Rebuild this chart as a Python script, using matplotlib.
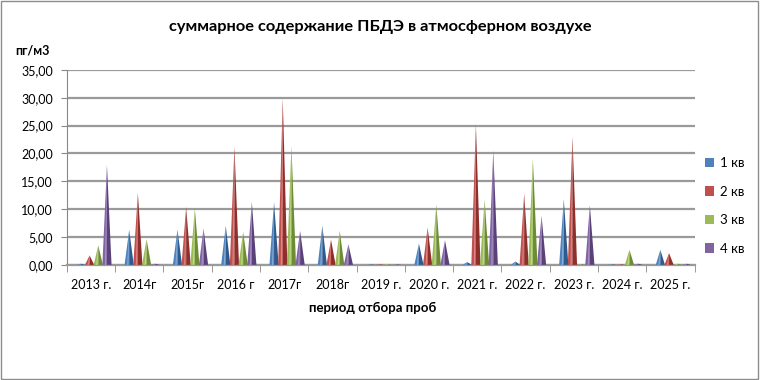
import matplotlib.pyplot as plt
import numpy as np
from matplotlib.patches import Polygon, Patch, Rectangle

plt.rcParams['font.family'] = ['Lato', 'DejaVu Sans']

years = ['2013 г.', '2014г', '2015г', '2016 г', '2017г', '2018г', '2019 г.',
         '2020 г.', '2021 г.', '2022 г.', '2023 г.', '2024 г.', '2025 г.']
series_names = ['1 кв', '2 кв', '3 кв', '4 кв']
q1 = [0.2, 6.3, 6.3, 7.0, 11.2, 7.0, 0.1, 3.8, 0.5, 0.6, 11.8, 0.1, 2.7]
q2 = [1.7, 12.9, 10.4, 21.2, 29.9, 4.5, 0.1, 6.7, 25.2, 12.8, 23.0, 0.1, 2.1]
q3 = [3.5, 4.6, 10.1, 5.9, 21.3, 6.1, 0.1, 10.9, 11.7, 19.0, 0.1, 2.7, 0.2]
q4 = [17.9, 0.2, 6.5, 11.3, 6.1, 3.7, 0.1, 4.4, 20.5, 8.8, 10.7, 0.2, 0.2]
colors = ['#4F81BD', '#C0504D', '#9BBB59', '#8064A2']
dark = ['#2E5A8E', '#8E2F2C', '#6E8C35', '#5A4278']
light = ['#9DBDE3', '#E89C9A', '#CDE39E', '#B9A5D3']

fig = plt.figure(figsize=(7.6, 3.8), dpi=100)
ax = fig.add_axes([0.088, 0.303, 0.826, 0.513])

x = np.arange(len(years))
step = 0.18
hw = 0.095
for i, vals in enumerate([q1, q2, q3, q4]):
    for xi, v in zip(x, vals):
        cx = xi + 0.06 + (i - 1.5) * step
        # left (lit) half and right (shaded) half of the cone
        ax.add_patch(Polygon([(cx - hw, 0), (cx, v), (cx, 0)], closed=True,
                             facecolor=colors[i], edgecolor='none', zorder=3))
        ax.add_patch(Polygon([(cx, 0), (cx, v), (cx + hw, 0)], closed=True,
                             facecolor=dark[i], edgecolor='none', zorder=3))
        ax.add_patch(Polygon([(cx - hw * 0.45, 0), (cx, v), (cx - hw * 0.15, 0)], closed=True,
                             facecolor=light[i], edgecolor='none', alpha=0.7, zorder=3))

ax.set_xlim(-0.5, len(years) - 0.5)
ax.set_ylim(0, 35)
ax.set_yticks(np.arange(0, 36, 5))
ax.set_yticklabels([f'{t:.2f}'.replace('.', ',') for t in np.arange(0, 36, 5)], fontsize=9)
ax.yaxis.grid(True, color='#9a9a9a', linewidth=1.6, zorder=0)
ax.set_axisbelow(True)
ax.set_xticks(x)
ax.set_xticklabels(years, fontsize=9)
ax.set_xticks(np.arange(-0.5, len(years), 1), minor=True)
ax.tick_params(axis='x', which='major', length=0, pad=10)
ax.tick_params(axis='x', which='minor', length=5, color='#888888')
ax.tick_params(axis='y', length=4, color='#888888', pad=6)
for s in ['top', 'right']:
    ax.spines[s].set_visible(False)
ax.spines['left'].set_color('#888888')
ax.spines['bottom'].set_color('#9a9a9a')
ax.spines['bottom'].set_linewidth(1.6)

fig.text(0.5, 0.928, 'суммарное содержание ПБДЭ в атмосферном воздухе',
         ha='center', va='center', fontsize=11.8, fontweight='bold')
fig.text(0.02, 0.868, 'пг/м3', ha='left', va='center', fontsize=9, fontweight='bold')
fig.text(0.49, 0.19, 'период отбора проб', ha='center', va='center',
         fontsize=9.5, fontweight='bold')

handles = [Patch(facecolor=c, edgecolor='none') for c in colors]
fig.legend(handles, series_names, loc='center left', bbox_to_anchor=(0.912, 0.458),
           frameon=False, fontsize=9.5, handlelength=0.7, handleheight=0.7,
           handletextpad=0.4, labelspacing=1.25)

fig.patches.append(Rectangle((0.001, 0.002), 0.997, 0.995, transform=fig.transFigure,
                             fill=False, edgecolor='#8c8c8c', linewidth=1))

fig.savefig('out.png', dpi=100)
